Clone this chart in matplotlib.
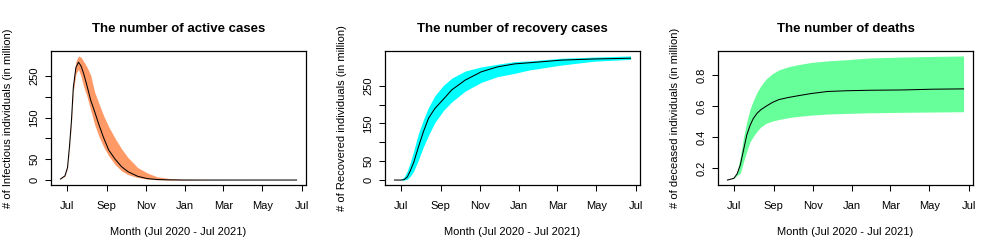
import numpy as np
import matplotlib
matplotlib.use('Agg')
import matplotlib.pyplot as plt
import matplotlib.dates as mdates

plt.rcParams['font.family'] = ['Liberation Sans', 'DejaVu Sans']

# days counted from 2020-07-01
base = np.datetime64('2020-07-01')

# active cases (million)
act_days = [-10, -3, 1, 4, 7, 10, 14, 18, 22, 26, 31, 37, 43, 50, 57, 65, 75, 85, 95,
            110, 125, 140, 160, 180, 220, 270, 320, 357]
act_mean = [2.4, 10, 30, 80, 140, 222, 270, 283, 274, 256, 228, 192, 165, 132, 102, 72, 50, 32, 20,
            9, 3.5, 1.2, 0.4, 0.1, 0, 0, 0, 0]
act_up = [2.6, 11, 32, 84, 146, 232, 285, 298, 295, 285, 272, 252, 212, 183, 155, 128, 100, 75, 54,
          30, 17, 8, 3.5, 1.5, 0.3, 0, 0, 0]
act_lo = [2.2, 9, 28, 76, 134, 212, 255, 266, 249, 225, 202, 168, 134, 104, 80, 58, 37, 22, 13,
          6, 2.5, 0.8, 0.1, 0, 0, 0, 0, 0]

# recovered (million)
rec_days = [-10, 0, 5, 10, 15, 20, 27, 35, 43, 53, 66, 79, 100, 125, 150, 177, 200, 250, 300, 357]
rec_mean = [0, 0, 1, 8, 26, 47, 86, 128, 164, 190, 214, 239, 265, 287, 300, 308, 311, 318, 321, 323]
rec_up = [0, 0.5, 8, 24, 49, 78, 122, 160, 193, 224, 251, 270, 289, 300, 307, 314, 316, 323, 326, 329]
rec_lo = [0, 0, 0, 2, 11, 24, 52, 88, 119, 153, 184, 207, 236, 259, 274, 283, 292, 305, 315, 320]

# deaths (million)
dth_days = [-10, 0, 5, 10, 15, 20, 25, 30, 36, 42, 50, 60, 70, 85, 100, 120, 145, 175, 210, 260, 310, 357]
dth_mean = [0.125, 0.136, 0.165, 0.222, 0.318, 0.414, 0.475, 0.52, 0.555, 0.578, 0.60, 0.625, 0.643,
            0.657, 0.668, 0.682, 0.695, 0.70, 0.703, 0.705, 0.71, 0.712]
dth_up = [0.125, 0.137, 0.175, 0.277, 0.40, 0.50, 0.58, 0.635, 0.69, 0.732, 0.775, 0.81, 0.834,
          0.855, 0.868, 0.882, 0.892, 0.90, 0.911, 0.917, 0.921, 0.924]
dth_lo = [0.125, 0.135, 0.155, 0.169, 0.243, 0.31, 0.37, 0.405, 0.44, 0.467, 0.49, 0.505, 0.515,
          0.527, 0.535, 0.543, 0.55, 0.554, 0.558, 0.561, 0.563, 0.565]

titles = ['The number of active cases', 'The number of recovery cases', 'The number of deaths']
ylabels = ['# of Infectious individuals (in million)', '# of Recovered individuals (in million)',
           '# of deceased individuals (in million)']
colors = ['#FF9966', '#00FFFF', '#66FF99']
ytick_vals = [[0, 50, 100, 150, 200, 250], [0, 50, 100, 150, 200, 250], [0.2, 0.4, 0.6, 0.8]]
ytick_labs = [['0', '50', '', '150', '', '250'], ['0', '50', '', '150', '', '250'],
              ['0.2', '0.4', '0.6', '0.8']]
month_ticks = ['2020-07-01', '2020-09-01', '2020-11-01', '2021-01-01', '2021-03-01', '2021-05-01', '2021-07-01']
month_labs = ['Jul', 'Sep', 'Nov', 'Jan', 'Mar', 'May', 'Jul']

series = [(act_days, act_mean, act_lo, act_up),
          (rec_days, rec_mean, rec_lo, rec_up),
          (dth_days, dth_mean, dth_lo, dth_up)]

fig = plt.figure(figsize=(10, 2.5), dpi=100)
lefts = [0.051, 0.385, 0.718]
for i in range(3):
    ax = fig.add_axes([lefts[i], 0.26, 0.255, 0.536])
    d, m, lo, up = series[i]
    t = base + np.array(d).astype('timedelta64[D]')
    ax.fill_between(t, lo, up, color=colors[i], lw=0)
    ax.plot(t, m, color='black', lw=0.75)
    # R style 4% axis expansion
    x0, x1 = mdates.date2num(t[0]), mdates.date2num(t[-1])
    px = 0.04 * (x1 - x0)
    ax.set_xlim(x0 - px, x1 + px)
    y0, y1 = min(lo), max(up)
    py = 0.04 * (y1 - y0)
    ax.set_ylim(y0 - py, y1 + py)
    ax.set_xticks([mdates.date2num(np.datetime64(s)) for s in month_ticks])
    ax.set_xticklabels(month_labs)
    ax.set_yticks(ytick_vals[i])
    ax.set_yticklabels(ytick_labs[i], rotation=90, va='center')
    ax.tick_params(labelsize=8, length=4.5, width=0.75, direction='out')
    ax.tick_params(axis='x', pad=7)
    ax.tick_params(axis='y', pad=4)
    for s in ax.spines.values():
        s.set_linewidth(0.9)
    ax.set_title(titles[i], fontsize=9.5, fontweight='bold', pad=14)
    ax.set_xlabel('Month (Jul 2020 - Jul 2021)', fontsize=8)
    ax.xaxis.set_label_coords(0.5, -0.31)
    ax.set_ylabel(ylabels[i], fontsize=8)
    ax.yaxis.set_label_coords(-0.15, 0.5)

fig.savefig('out.png', dpi=100)
